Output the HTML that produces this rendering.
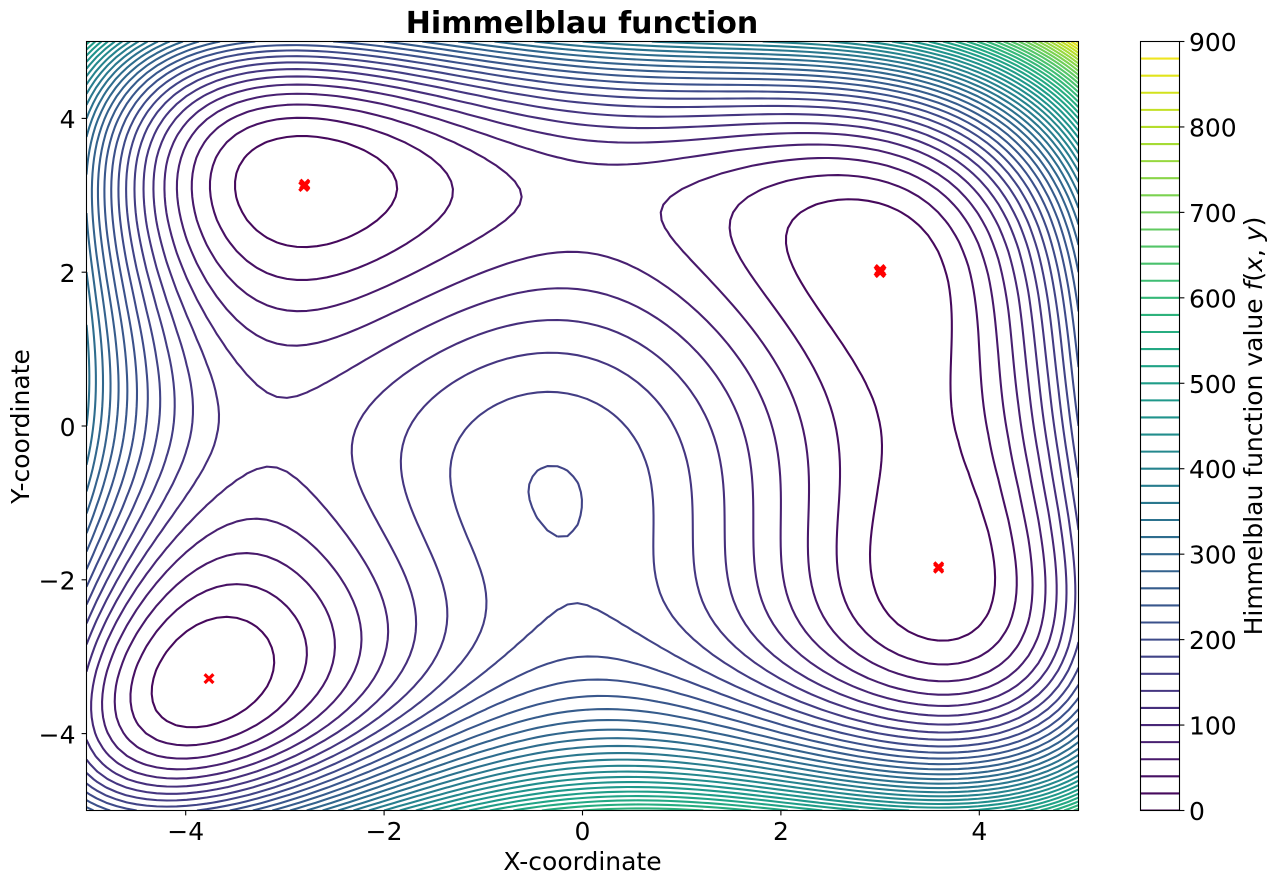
<!DOCTYPE html>
<html lang="en">
<head>
<meta charset="utf-8">
<title>Himmelblau function</title>
<style>
  html, body { margin: 0; padding: 0; background: #ffffff; }
  #chart { display: block; width: 1279px; height: 884px; font-family: "DejaVu Sans", "Liberation Sans", sans-serif; fill: #000000; }
  .tick-label { font-size: 25px; }
  .axis-title { font-size: 25px; }
  .chart-title { font-size: 30px; font-weight: bold; }
</style>
</head>
<body>
<svg id="chart" xmlns="http://www.w3.org/2000/svg" width="1279" height="884" viewBox="0 0 1279 884">
  <defs>
    <clipPath id="plot-clip"><rect x="86.5" y="41.5" width="992" height="769"/></clipPath>
    <clipPath id="cbar-clip"><rect x="1140.5" y="41.5" width="39" height="769"/></clipPath>
  </defs>
  <g id="contours" clip-path="url(#plot-clip)" fill="none" stroke-width="2.08" stroke-linejoin="round"></g>
  <g id="minima" clip-path="url(#plot-clip)" fill="none" stroke="#ff0000" stroke-width="3.2"></g>
  <rect x="86.5" y="41.5" width="992" height="769" fill="none" stroke="#000" stroke-width="1.1"/>
  <g id="x-ticks"></g>
  <g id="y-ticks"></g>
  <text class="chart-title" x="582" y="33" text-anchor="middle">Himmelblau function</text>
  <text class="axis-title" x="582.5" y="870" text-anchor="middle">X-coordinate</text>
  <text class="axis-title" transform="translate(29 426.5) rotate(-90)" text-anchor="middle">Y-coordinate</text>
  <g id="cbar-lines" clip-path="url(#cbar-clip)" stroke-width="2.08"></g>
  <rect x="1140.5" y="41.5" width="39" height="769" fill="none" stroke="#000" stroke-width="1.1"/>
  <g id="cbar-ticks"></g>
  <text class="axis-title" transform="translate(1262 426) rotate(-90)" text-anchor="middle">Himmelblau function value <tspan font-style="italic">f</tspan>(<tspan font-style="italic">x</tspan>, <tspan font-style="italic">y</tspan>)</text>
</svg>
<script>
// Chart data
const levels = [0, 20, 40, 60, 80, 100, 120, 140, 160, 180, 200, 220, 240, 260, 280, 300, 320, 340, 360, 380, 400, 420, 440, 460, 480, 500, 520, 540, 560, 580, 600, 620, 640, 660, 680, 700, 720, 740, 760, 780, 800, 820, 840, 860, 880];
const colorbarMax = 900;
const xTicks = [-4, -2, 0, 2, 4];
const yTicks = [-4, -2, 0, 2, 4];
const colorbarTicks = [0, 100, 200, 300, 400, 500, 600, 700, 800, 900];
const foundX = [-2.80, -2.81, -2.80, 3.0, 3.0, 2.99, 3.01, -3.765, 3.59, 3.59];
const foundY = [3.13, 3.115, 3.145, 1.995, 2.035, 2.015, 2.015, -3.285, -1.83, -1.85];
const domainMin = -5;
const domainMax = 5;
const gridSize = 100;

const viridis = ['#440154','#481467','#482576','#453781','#404788','#39568c','#33638d','#2d708e','#287d8e','#238a8d','#1f968b','#20a386','#29af7f','#3dbc74','#56c667','#75d054','#95d840','#b8de29','#dce319','#fde725'];

// Axis functions
const axisX = v => 86.5 + (v - domainMin) / (domainMax - domainMin) * 992;
const axisY = v => 810.5 - (v - domainMin) / (domainMax - domainMin) * 769;
const axisC = v => 810.5 - v / colorbarMax * 769;

const SVGNS = 'http://www.w3.org/2000/svg';
const himmelblau = (x, y) => Math.pow(x * x + y - 11, 2) + Math.pow(x + y * y - 7, 2);

function levelColor(v) {
  const t = Math.max(0, Math.min(1, v / colorbarMax)) * (viridis.length - 1);
  const i = Math.min(viridis.length - 2, Math.floor(t));
  const f = t - i;
  const a = parseInt(viridis[i].slice(1), 16);
  const b = parseInt(viridis[i + 1].slice(1), 16);
  const mix = s => Math.round(((a >> s) & 255) * (1 - f) + ((b >> s) & 255) * f);
  return 'rgb(' + mix(16) + ',' + mix(8) + ',' + mix(0) + ')';
}

const gridValues = [];
const gridCoords = [];
for (let i = 0; i < gridSize; i++) {
  gridCoords.push(domainMin + (domainMax - domainMin) * i / (gridSize - 1));
}
for (let j = 0; j < gridSize; j++) {
  const row = [];
  for (let i = 0; i < gridSize; i++) {
    row.push(himmelblau(gridCoords[i], gridCoords[j]));
  }
  gridValues.push(row);
}

function contourPath(level) {
  const n = gridSize;
  const points = new Map();
  const links = new Map();
  const link = (a, b) => {
    if (!links.has(a)) links.set(a, []);
    if (!links.has(b)) links.set(b, []);
    links.get(a).push(b);
    links.get(b).push(a);
  };
  const edgeKey = (i, j, vertical) => (j * n + i) * 2 + (vertical ? 1 : 0);
  const hEdge = (i, j) => {
    const k = edgeKey(i, j, false);
    if (!points.has(k)) {
      const t = (level - gridValues[j][i]) / (gridValues[j][i + 1] - gridValues[j][i]);
      points.set(k, [gridCoords[i] + t * (gridCoords[i + 1] - gridCoords[i]), gridCoords[j]]);
    }
    return k;
  };
  const vEdge = (i, j) => {
    const k = edgeKey(i, j, true);
    if (!points.has(k)) {
      const t = (level - gridValues[j][i]) / (gridValues[j + 1][i] - gridValues[j][i]);
      points.set(k, [gridCoords[i], gridCoords[j] + t * (gridCoords[j + 1] - gridCoords[j])]);
    }
    return k;
  };
  for (let j = 0; j < n - 1; j++) {
    for (let i = 0; i < n - 1; i++) {
      const a = gridValues[j][i] >= level;
      const b = gridValues[j][i + 1] >= level;
      const c = gridValues[j + 1][i + 1] >= level;
      const d = gridValues[j + 1][i] >= level;
      const code = (a ? 1 : 0) + (b ? 2 : 0) + (c ? 4 : 0) + (d ? 8 : 0);
      if (code === 0 || code === 15) continue;
      const bottom = () => hEdge(i, j);
      const top = () => hEdge(i, j + 1);
      const left = () => vEdge(i, j);
      const right = () => vEdge(i + 1, j);
      if (code === 5 || code === 10) {
        const mean = (gridValues[j][i] + gridValues[j][i + 1] + gridValues[j + 1][i + 1] + gridValues[j + 1][i]) / 4;
        const centerHigh = mean >= level;
        if ((code === 5) === centerHigh) {
          link(left(), top());
          link(bottom(), right());
        } else {
          link(left(), bottom());
          link(top(), right());
        }
        continue;
      }
      const crossings = [];
      if (a !== b) crossings.push(bottom());
      if (b !== c) crossings.push(right());
      if (c !== d) crossings.push(top());
      if (d !== a) crossings.push(left());
      link(crossings[0], crossings[1]);
    }
  }
  const used = new Set();
  let path = '';
  const walk = start => {
    let current = start;
    let prev = null;
    const chain = [start];
    used.add(start);
    while (true) {
      const next = links.get(current).find(k => !used.has(k));
      if (next === undefined) {
        if (prev !== null && links.get(current).includes(start) && start !== prev && chain.length > 2) chain.push(start);
        break;
      }
      used.add(next);
      chain.push(next);
      prev = current;
      current = next;
    }
    path += chain.map((k, idx) => {
      const p = points.get(k);
      return (idx ? 'L' : 'M') + axisX(p[0]).toFixed(2) + ' ' + axisY(p[1]).toFixed(2);
    }).join('');
  };
  links.forEach((nb, k) => { if (nb.length === 1 && !used.has(k)) walk(k); });
  links.forEach((nb, k) => { if (!used.has(k)) walk(k); });
  return path;
}

// Contour lines
const contourGroup = document.getElementById('contours');
levels.forEach(level => {
  const d = contourPath(level);
  if (!d) return;
  const el = document.createElementNS(SVGNS, 'path');
  el.setAttribute('d', d);
  el.setAttribute('stroke', levelColor(level));
  
  
  contourGroup.appendChild(el);
});

// Minima markers
const minimaGroup = document.getElementById('minima');
foundX.forEach((x, i) => {
  const px = axisX(x);
  const py = axisY(foundY[i]);
  const r = 4.4;
  const el = document.createElementNS(SVGNS, 'path');
  el.setAttribute('d', 'M' + (px - r) + ' ' + (py - r) + 'L' + (px + r) + ' ' + (py + r) + 'M' + (px - r) + ' ' + (py + r) + 'L' + (px + r) + ' ' + (py - r));
  
  
  minimaGroup.appendChild(el);
});

function addTick(group, x1, y1, x2, y2) {
  const el = document.createElementNS(SVGNS, 'line');
  el.setAttribute('x1', x1);
  el.setAttribute('y1', y1);
  el.setAttribute('x2', x2);
  el.setAttribute('y2', y2);
  el.setAttribute('stroke', '#000');
  el.setAttribute('stroke-width', '1.1');
  
  
  group.appendChild(el);
}

function addLabel(group, x, y, anchor, value) {
  const el = document.createElementNS(SVGNS, 'text');
  el.setAttribute('x', x);
  el.setAttribute('y', y);
  el.setAttribute('text-anchor', anchor);
  el.setAttribute('class', 'tick-label');
  
  
  el.textContent = String(value).replace('-', '\u2212');
  group.appendChild(el);
}

// X axis
const xTickGroup = document.getElementById('x-ticks');
xTicks.forEach(v => {
  const x = axisX(v);
  addTick(xTickGroup, x, 810.5, x, 815.4);
  addLabel(xTickGroup, x, 840, 'middle', v);
});

// Y axis
const yTickGroup = document.getElementById('y-ticks');
yTicks.forEach(v => {
  const y = axisY(v);
  addTick(yTickGroup, 86.5, y, 81.6, y);
  addLabel(yTickGroup, 75.5, y + 9.8, 'end', v);
});

// Colorbar
const cbarLines = document.getElementById('cbar-lines');
levels.forEach(level => {
  const y = axisC(level);
  const el = document.createElementNS(SVGNS, 'line');
  el.setAttribute('x1', 1140.5);
  el.setAttribute('x2', 1179.5);
  el.setAttribute('y1', y);
  el.setAttribute('y2', y);
  el.setAttribute('stroke', levelColor(level));
  
  
  cbarLines.appendChild(el);
});
const cbarTickGroup = document.getElementById('cbar-ticks');
colorbarTicks.forEach(v => {
  const y = axisC(v);
  addTick(cbarTickGroup, 1179.5, y, 1184.4, y);
  addLabel(cbarTickGroup, 1189, y + 9.5, 'start', v);
});
</script>
</body>
</html>
